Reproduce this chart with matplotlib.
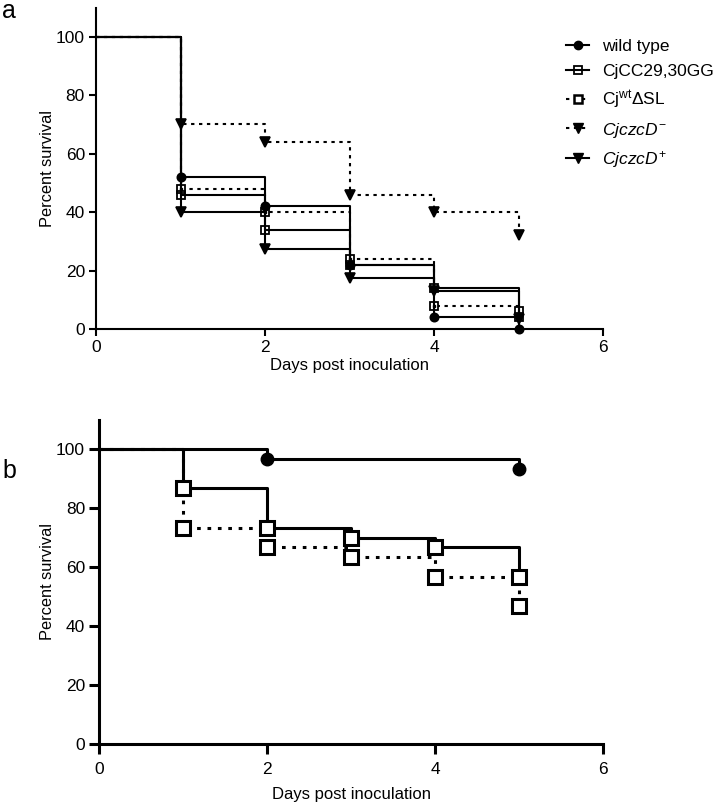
import matplotlib
matplotlib.use("Agg")
import matplotlib.pyplot as plt
from matplotlib import font_manager as fm
from matplotlib.lines import Line2D

names = {f.name for f in fm.fontManager.ttflist}
NARROW_OK = "Liberation Sans Narrow" in names
NARROW = "Liberation Sans Narrow" if NARROW_OK else "Liberation Sans"
REG = "Liberation Sans"
plt.rcParams["font.family"] = [REG, "DejaVu Sans"]
plt.rcParams["mathtext.fontset"] = "custom"
plt.rcParams["mathtext.rm"] = REG
plt.rcParams["mathtext.it"] = REG + ":italic"

# ---------------- data ----------------
days_a = [0, 1, 2, 3, 4, 5]
wild_type_a = [100, 52, 42, 22, 4, 0]
cjcc29_a = [100, 46, 34, 22, 14, 6]
cjwt_dsl_a = [100, 48, 40, 24, 8, 4]
czcd_minus_a = [100, 70, 64, 46, 40, 32]
czcd_plus_a = [100, 40, 27.5, 17.5, 13, 3.5]

days_wt_b = [0, 2, 5]
wild_type_b = [100, 96.7, 93.3]
days_b = [0, 1, 2, 3, 4, 5]
solid_sq_b = [100, 86.7, 73.3, 70, 66.7, 56.7]
dotted_sq_b = [100, 73.3, 66.7, 63.3, 56.7, 46.7]

labels_a = ["wild type", "CjCC29,30GG", r"Cj$^{\mathrm{wt}}$ΔSL",
            r"$\mathit{CjczcD}^{\mathrm{-}}$", r"$\mathit{CjczcD}^{\mathrm{+}}$"]
xticks = [0, 2, 4, 6]
yticks = [0, 20, 40, 60, 80, 100]

W, H = 714, 808
fig = plt.figure(figsize=(W / 100, H / 100), dpi=100)

def px_axes(l, r, b, t):
    return fig.add_axes([l / W, 1 - b / H, (r - l) / W, (b - t) / H])

ax_a = px_axes(96, 603, 329, 7.5)
ax_b = px_axes(99, 603, 744, 419.5)

TICK_FS = 13.5 if NARROW_OK else 12.5

def style(ax, lw, ticklen, xpad, xlabpad, ylabpad):
    for s in ["top", "right"]:
        ax.spines[s].set_visible(False)
    for s in ["left", "bottom"]:
        ax.spines[s].set_linewidth(lw)
    ax.set_xlim(0, 6)
    ax.set_ylim(0, 110)
    ax.set_xticks(xticks)
    ax.set_yticks(yticks)
    ax.tick_params(direction="out", length=ticklen, width=lw, labelsize=TICK_FS, pad=3)
    ax.tick_params(axis="x", pad=xpad)
    for t in ax.get_xticklabels() + ax.get_yticklabels():
        t.set_fontfamily(NARROW)
    ax.spines["left"].set_bounds(0, 110)
    ax.set_xlabel("Days post inoculation", fontsize=12, labelpad=xlabpad)
    ax.set_ylabel("Percent survival", fontsize=11.8, labelpad=ylabpad)

LW_A = 1.5
dash = (0, (1.6, 2.2))

def km(ax, x, y, ls, lw, marker, ms, mfc, mew, z):
    ax.step(x, y, where="post", color="black", lw=lw, ls=ls, zorder=z, clip_on=False)
    ax.plot(x[1:], y[1:], ls="none", marker=marker, ms=ms, mfc=mfc, mec="black",
            mew=mew, zorder=z + 0.5, clip_on=False)

km(ax_a, days_a, czcd_minus_a, dash, LW_A, "v", 6.5, "black", 1.2, 2)
km(ax_a, days_a, cjwt_dsl_a, dash, LW_A, "s", 6, "white", 1.3, 3)
ax_a.plot(days_a[1:], cjwt_dsl_a[1:], ls="none", marker="s", ms=1.6, color="black", zorder=3.8, clip_on=False)
km(ax_a, days_a, czcd_plus_a, "-", LW_A, "v", 6.5, "black", 1.2, 4)
km(ax_a, days_a, cjcc29_a, "-", LW_A, "s", 6, "none", 1.3, 5)
km(ax_a, days_a, wild_type_a, "-", LW_A, "o", 6, "black", 1.2, 6)
style(ax_a, 1.5, 5, 3, 2, 1)

handles = [
    Line2D([], [], color="black", lw=LW_A, marker="o", ms=6, mfc="black"),
    Line2D([], [], color="black", lw=LW_A, marker="s", ms=6, mfc="none", mew=1.3),
    Line2D([], [], color="black", lw=LW_A, ls=dash, marker="s", ms=6, mfc="white", mew=1.8),
    Line2D([], [], color="black", lw=LW_A, ls=dash, marker="v", ms=6.5, mfc="black"),
    Line2D([], [], color="black", lw=LW_A, marker="v", ms=6.5, mfc="black"),
]
fig.legend(handles, labels_a, loc="upper left", bbox_to_anchor=(566 / W, 1 - 39 / H),
           frameon=False, fontsize=12.5, handlelength=1.35, handletextpad=0.75,
           labelspacing=0.55, borderaxespad=0, borderpad=0)

LW_B = 2.2
dash_b = (0, (1.2, 2.2))
km(ax_b, days_b, dotted_sq_b, dash_b, LW_B, "s", 9.5, "white", 2.2, 2)
km(ax_b, days_b, solid_sq_b, "-", LW_B, "s", 9.5, "white", 2.2, 3)
km(ax_b, days_wt_b, wild_type_b, "-", LW_B, "o", 9, "black", 1, 4)
style(ax_b, 2.2, 7, 6, 7, 1)

fig.text(2 / W, 1 - 18 / H, "a", fontsize=18, va="baseline", ha="left")
fig.text(2 / W, 1 - 478 / H, "b", fontsize=18, va="baseline", ha="left")

fig.savefig("out.png", dpi=100)
